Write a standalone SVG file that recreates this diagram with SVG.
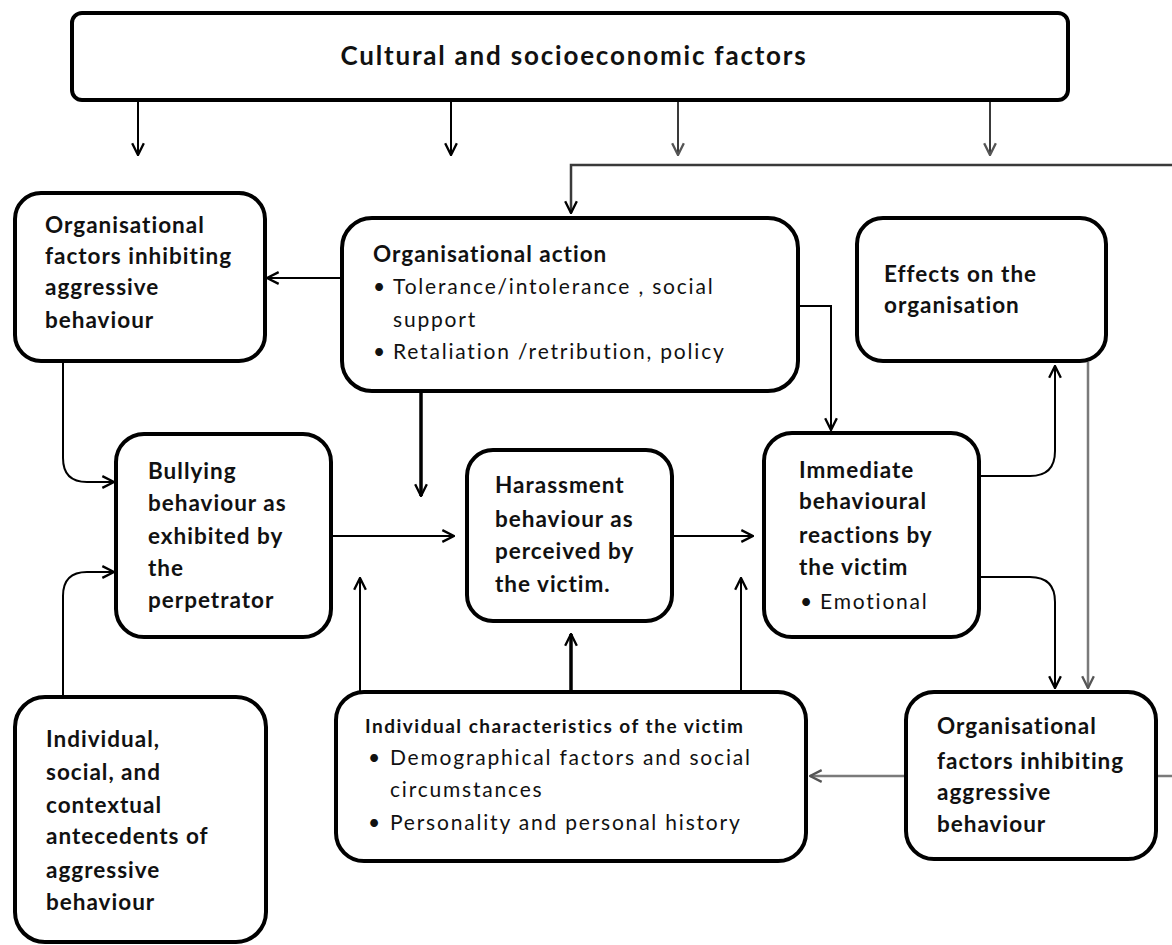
<svg xmlns="http://www.w3.org/2000/svg" width="1172" height="945" viewBox="0 0 1172 945">
  <style>
    .box { fill: #ffffff; stroke: #000000; stroke-width: 4; }
    .title { font-family: Lato, "Open Sans", sans-serif; font-weight: bold; font-size: 22.5px; letter-spacing: 1px; fill: #111111; }
    .body { font-family: Lato, "Open Sans", sans-serif; font-size: 21px; fill: #111111; letter-spacing: 1.8px; }
    .small-title { font-family: Lato, "Open Sans", sans-serif; font-weight: bold; font-size: 19px; letter-spacing: 1.5px; fill: #111111; }
    .conn { fill: none; stroke: #000000; stroke-width: 2; }
    .thick { stroke-width: 3.5; }
    .grey { stroke: #7a7a7a; stroke-width: 2.5; }
    .dark { stroke: #3a3a3a; }
  </style>
  <defs>
    <marker id="arrow" viewBox="0 0 12 12" refX="11" refY="6" markerWidth="14" markerHeight="14" markerUnits="userSpaceOnUse" orient="auto">
      <path d="M1,1 L11,6 L1,11" fill="none" stroke="#000000" stroke-width="2"/>
    </marker>
    <marker id="arrow-grey" viewBox="0 0 12 12" refX="11" refY="6" markerWidth="14" markerHeight="14" markerUnits="userSpaceOnUse" orient="auto">
      <path d="M1,1 L11,6 L1,11" fill="none" stroke="#555555" stroke-width="2"/>
    </marker>
  </defs>

  <!-- connectors -->
  <g id="connectors">
    <path class="conn" d="M138,100 V155" marker-end="url(#arrow)"/>
    <path class="conn" d="M451,100 V155" marker-end="url(#arrow)"/>
    <path class="conn dark" d="M678,100 V155" marker-end="url(#arrow-grey)"/>
    <path class="conn dark" d="M990,100 V155" marker-end="url(#arrow-grey)"/>
    <path class="conn dark" d="M1172,165 H571 V213" style="stroke-width:2.5" marker-end="url(#arrow)"/>
    <path class="conn" d="M342,278 H267" marker-end="url(#arrow)"/>
    <path class="conn" d="M798,306 H831 V430" marker-end="url(#arrow)"/>
    <path class="conn thick" d="M421,393 V496" marker-end="url(#arrow)"/>
    <path class="conn" d="M63,362 V458 Q63,482 87,482 H114" marker-end="url(#arrow)"/>
    <path class="conn" d="M63,697 V596 Q63,572 87,572 H114" marker-end="url(#arrow)"/>
    <path class="conn" d="M332,536 H454" marker-end="url(#arrow)"/>
    <path class="conn" d="M360,692 V578" marker-end="url(#arrow)"/>
    <path class="conn thick" d="M571,692 V634" marker-end="url(#arrow)"/>
    <path class="conn" d="M741,692 V578" marker-end="url(#arrow)"/>
    <path class="conn" d="M673,536 H753" marker-end="url(#arrow)"/>
    <path class="conn" d="M980,476 H1030 Q1055,476 1055,451 V366" marker-end="url(#arrow)"/>
    <path class="conn" d="M980,577 H1030 Q1055,577 1055,602 V688" marker-end="url(#arrow)"/>
    <path class="conn grey" d="M1088,362 V688" marker-end="url(#arrow-grey)"/>
    <path class="conn grey" d="M905,776 H810" marker-end="url(#arrow-grey)"/>
    <path class="conn grey" d="M1157,776 H1172"/>
  </g>

  <!-- top band -->
  <g id="cultural">
    <rect class="box" x="72" y="13" width="996" height="87" rx="10"/>
    <text class="title" x="574" y="65" text-anchor="middle" style="font-size:26px;letter-spacing:1.8px">Cultural and socioeconomic factors</text>
  </g>

  <g id="org-factors-left">
    <rect class="box" x="15" y="193" width="250" height="168" rx="26"/>
    <text class="title" x="45" y="233">Organisational</text>
    <text class="title" x="45" y="264">factors inhibiting</text>
    <text class="title" x="45" y="295">aggressive</text>
    <text class="title" x="45" y="328">behaviour</text>
  </g>

  <g id="org-action">
    <rect class="box" x="342" y="218" width="456" height="173" rx="30"/>
    <text class="title" x="373" y="262">Organisational action</text>
    <text class="body" x="373" y="294">•</text>
    <text class="body" x="393" y="294">Tolerance/intolerance , social</text>
    <text class="body" x="393" y="327">support</text>
    <text class="body" x="373" y="359">•</text>
    <text class="body" x="393" y="359">Retaliation /retribution, policy</text>
  </g>

  <g id="effects">
    <rect class="box" x="857" y="218" width="249" height="143" rx="26"/>
    <text class="title" x="884" y="282">Effects on the</text>
    <text class="title" x="884" y="313">organisation</text>
  </g>

  <g id="bullying">
    <rect class="box" x="116" y="434" width="215" height="203" rx="28"/>
    <text class="title" x="148" y="479">Bullying</text>
    <text class="title" x="148" y="511">behaviour as</text>
    <text class="title" x="148" y="544">exhibited by</text>
    <text class="title" x="148" y="576">the</text>
    <text class="title" x="148" y="608">perpetrator</text>
  </g>

  <g id="harassment">
    <rect class="box" x="467" y="450" width="205" height="171" rx="26"/>
    <text class="title" x="495" y="493">Harassment</text>
    <text class="title" x="495" y="527">behaviour as</text>
    <text class="title" x="495" y="559">perceived by</text>
    <text class="title" x="495" y="592">the victim.</text>
  </g>

  <g id="reactions">
    <rect class="box" x="764" y="433" width="215" height="204" rx="28"/>
    <text class="title" x="799" y="478">Immediate</text>
    <text class="title" x="799" y="509">behavioural</text>
    <text class="title" x="799" y="543">reactions by</text>
    <text class="title" x="799" y="575">the victim</text>
    <text class="body" x="800" y="609">•</text>
    <text class="body" x="820" y="609">Emotional</text>
  </g>

  <g id="victim-characteristics">
    <rect class="box" x="336" y="692" width="470" height="169" rx="28"/>
    <text class="small-title" x="365" y="733">Individual characteristics of the victim</text>
    <text class="body" x="368" y="765">•</text>
    <text class="body" x="390" y="765">Demographical factors and social</text>
    <text class="body" x="390" y="797">circumstances</text>
    <text class="body" x="368" y="830">•</text>
    <text class="body" x="390" y="830">Personality and personal history</text>
  </g>

  <g id="org-factors-right">
    <rect class="box" x="906" y="692" width="250" height="167" rx="28"/>
    <text class="title" x="937" y="734">Organisational</text>
    <text class="title" x="937" y="769">factors inhibiting</text>
    <text class="title" x="937" y="800">aggressive</text>
    <text class="title" x="937" y="832">behaviour</text>
  </g>

  <g id="antecedents">
    <rect class="box" x="15" y="697" width="251" height="245" rx="30"/>
    <text class="title" x="46" y="747">Individual,</text>
    <text class="title" x="46" y="780">social, and</text>
    <text class="title" x="46" y="813">contextual</text>
    <text class="title" x="46" y="844">antecedents of</text>
    <text class="title" x="46" y="878">aggressive</text>
    <text class="title" x="46" y="910">behaviour</text>
  </g>
</svg>
